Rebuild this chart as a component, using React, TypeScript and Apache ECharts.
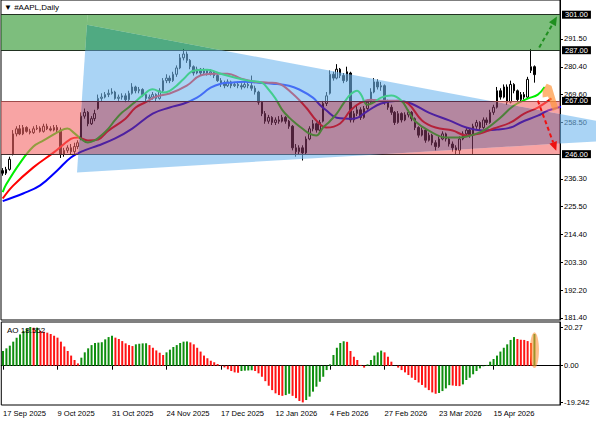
import React, { useEffect, useRef } from 'react';
import * as echarts from 'echarts';

const START_DATE = '2025-09-17';
const HOLIDAYS = ['2025-11-27', '2025-12-25', '2026-01-01', '2026-01-19', '2026-02-16', '2026-04-03'];
const BAR_COUNT = 157;
const FUTURE_SLOTS = 7;
const LABEL_EVERY = 16;
const MONTHS = ['Jan', 'Feb', 'Mar', 'Apr', 'May', 'Jun', 'Jul', 'Aug', 'Sep', 'Oct', 'Nov', 'Dec'];

const TITLE = '\u25BC #AAPL,Daily';
const AO_TITLE = 'AO 18.552';

// [open, close, low, high]
const CANDLES: number[][] = [
  [239.5,238.5,237.5,240.5],[238.5,240,237.8,241],[240,244,239.5,245],[246,254,245.5,255.5],[254,256,253,257],
  [256,254,253.5,257.5],[254,256.5,253.5,257.5],[256.5,255,254.5,257],[255,254.5,253.8,256],[254.5,256,254,257],
  [256,256.3,255.5,257.5],[256.3,255,254.5,257],[255,257,254.5,258],[257,256,255.5,258],[256,255.5,255,257],
  [255.5,256.5,255,257.5],[256.5,255.5,254.5,257.5],[255.5,246,244.5,256.5],[246,247.5,245,248.5],[247.5,248.5,246.5,249.5],
  [248.5,247,246,250],[247,249,246,250.5],[249,250.5,248,251.5],[252,261,251.5,262.5],[261,262.5,260,264],
  [262.5,258,257,263],[258,260,257.5,261],[260,262,259,263.5],[264,268,263.5,269.5],[268,268.5,267,270],
  [268.5,269.5,268,270.5],[269.5,270,268.5,271.5],[270,270.5,269.5,272],[270.5,268,267.5,271],[268,268.5,267,269.5],
  [268.5,269,267.5,270],[269,267.5,266.5,270],[267.5,270,267,271],[270,272.5,269.5,274],[272.5,271,270,273],
  [271,271.5,270,272.5],[271.5,269.5,268.5,272],[269.5,268,267,270],[268,268.5,266.5,269.5],[268.5,269.5,267.5,270.5],
  [269.5,268,267,270],[268,271,267.5,272],[271,275,270.5,276],[275,276,274,277.5],[276,275,274,277],
  [275,277.5,274.5,278.5],[277.5,280,276.5,281],[280,284,279.5,285.5],[284,285.5,283,287.5],[285.5,283,282,286.5],
  [283,280.5,279.5,283.5],[280.5,278,277,281],[278,279.5,277.5,280.5],[279.5,278,277,280],[278,279,277.5,280],
  [279,278,277,279.5],[278,278.5,277,279.5],[278.5,277,276,279],[277,275,274.5,277.5],[275,274,272.5,276],
  [274,273,272,275],[273,274.5,272.5,275.5],[274.5,273,272,275],[273,273.5,272.5,274.5],[273.5,273,272,274.5],
  [273,272.5,271.5,274],[272.5,273.5,272,274.5],[273.5,273,272,274.5],[273,272,271,277],[272,270.5,269.5,273],
  [270.5,266.5,265.5,271],[266.5,262,261,267],[262,259,258,263],[259,260.5,258,261.5],[260.5,258.5,257.5,261],
  [258.5,259.5,257.5,260.5],[259.5,259,258,261],[259,260.5,258.5,261.5],[260.5,259,258,261],[259,257,256,259.5],
  [257,248.5,247.5,257.5],[248.5,247,245,250],[247,248.5,246,249.5],[248.5,246.5,243.5,249.5],[246.5,252,246,253],
  [252,256,251.5,257],[256,258,255,259.5],[258,255.5,254.5,258.5],[255.5,258.5,255,259.5],[259,266,258.5,267],
  [266,269,265,270.5],[270,277.5,269.5,279],[277.5,276,275,278.5],[276,279.5,275.5,281.5],[279.5,277,276,280],
  [277,275,274,278],[275,278.5,274.5,280.5],[278,259.5,258.5,278.5],[259.5,262,258.5,263],[262,263.5,261,265],
  [263.5,260.5,259.5,264.5],[260.5,264,260,265],[264,266.5,263.5,267.5],[266.5,270.5,266,272],[270.5,274.5,270,276],
  [274.5,272.5,271.5,275.5],[272.5,273,271,274.5],[273,266.5,265.5,273.5],[266.5,264.5,263.5,267.5],[264.5,262.5,261.5,265.5],
  [262.5,258.5,257.5,263],[258.5,262,258,263],[262,259.5,258.5,262.5],[259.5,261.5,259,262.5],[261.5,262.5,260.5,263.5],
  [262.5,260,259,263],[260,256.5,255.5,260.5],[256.5,253.5,252.5,257],[253.5,255.5,253,256.5],[255.5,251.5,250.5,256],
  [251.5,253.5,251,254.5],[253.5,250.5,249.5,254],[250.5,249,247.5,251.5],[249,252,248.5,253],[252,254,251.5,255],
  [254,252,251,254.5],[252,250,249,252.5],[250,248.5,247,251],[248.5,247.5,246,249.5],[247.5,252,246,253],
  [252,254,251.5,255],[254,255.5,253,256.5],[255.5,253.5,252.5,256],[253.5,257,246,258],[257,258.5,256,259.5],
  [258.5,256.5,255.5,259],[256.5,259.5,256,260.5],[259.5,258.5,257.5,260.5],[258.5,262.5,258,263.5],[262.5,264.5,261.5,265.5],
  [264.5,271,264,272.5],[271,268.5,267.5,272],[268.5,272.5,268,273.5],[272.5,266.5,265.5,273.5],[266.5,273.5,266,275],
  [273.5,271,270,274],[271,267.5,266.5,271.5],[267.5,269.5,266.5,270.5],[269.5,268.5,267.5,270.5],[268.5,275.5,268,276.5],
  [279,280.5,278,287.5],[280.5,277.37,274.2,281],
];

// Alligator lines, [bar index, price] (lips / teeth / jaw, already shifted forward)
const LIPS: number[][] = [
  [0,231],[1,234],[5,242.4],[9,249],[12,251.4],[17,255.3],[19,256.1],[21,254.3],[23,252],[25,250.6],[27,251.4],[29,253.5],
  [31,256.1],[33,259.5],[35,262.4],[37,264.5],[39,266.8],[41,269.1],[44,271.6],[47,270.3],[49,271],[51,273],[53,275.5],
  [56,278.9],[60,279.3],[64,277.7],[68,276.2],[72,275],[76,274.2],[78,271.5],[80,268],[82,263.5],[84,260.5],[86,258.1],
  [88,256],[90,254.1],[92,253.4],[94,256.5],[96,259],[98,262],[100,266],[102,269.5],[104,271],[105,269.8],[107,265.5],
  [109,266.5],[111,268.3],[114,269.1],[117,267.1],[119,263],[121,259],[125,255.3],[130,252.6],[134,252.6],[139,254.1],
  [142,256.1],[146,260.4],[150,265.2],[154,267.9],[157,269.5],[159,272.5],
];
const TEETH: number[][] = [
  [0,228.5],[3,233.5],[9,240.8],[15,246.7],[20,252],[22,252.6],[25,251.4],[28,251.8],[31,255.3],[36,260],[39,264.4],
  [42,266.5],[45,268.7],[49,269.9],[54,273],[58,277],[62,277.7],[66,277.7],[70,275.8],[74,274.6],[78,274.2],[81,273.8],
  [85,269.9],[89,264.4],[92,259.3],[95,256.5],[99,258.1],[102,263.2],[105,266.3],[108,267.5],[112,267.1],[116,267.1],
  [119,265.9],[123,259.3],[127,256.5],[132,255.3],[136,253.4],[140,254.1],[144,256.1],[149,258.5],[153,262],[157,264.4],
  [161,268],
];
const JAW: number[][] = [
  [0,227.5],[6,230.5],[11,233.7],[16,239.6],[20,244.7],[24,247.5],[28,249.4],[33,252.2],[38,256.1],[44,262],[49,264.4],
  [53,265.9],[57,268.3],[61,272.2],[64,273.8],[67,274.2],[71,274.6],[75,274.2],[79,273.8],[84,273],[87,271.5],[91,268.3],
  [93,265.5],[95,263.2],[98,260.4],[103,260],[107,263],[111,266],[116,267.1],[120,265.9],[125,262.4],[131,259.3],
  [136,256.5],[141,255.3],[145,255.7],[149,256.5],[152,258.5],[157,261.2],[160,263.2],[164,264.8],
];

const AO: number[] = [
  7.7, 9.1, 10.5, 12.6, 14.7, 16.4, 18.2, 19.6, 20.27, 19.9,
  19.95, 18.2, 17.8, 17.3, 16.6, 15.7, 14.7, 12.6, 10.0, 7.7,
  5.3, 3.0, 1.2, 4.2, 7.0, 9.1, 10.8, 11.9, 12.1, 12.3,
  13.8, 15.0, 15.7, 14.7, 14.0, 12.9, 11.7, 10.8, 10.3, 11.2,
  11.5, 11.7, 11.75, 10.8, 9.4, 8.0, 6.8, 5.6, 7.0, 8.4,
  9.8, 10.8, 11.9, 12.6, 12.7, 12.2, 11.2, 9.4, 7.4, 5.3,
  3.9, 2.6, 1.8, 0.9, 0.2, -0.9, -1.9, -2.8, -3.5, -3.7,
  -2.8, -2.6, -2.5, -2.4, -2.8, -4.0, -5.8, -8.1, -10.5, -12.8,
  -14.5, -15.4, -15.8, -15.4, -14.7, -15.8, -17.0, -18.5, -19.242, -18.0,
  -16.2, -13.6, -11.0, -8.4, -5.8, -2.3, 0.7, 5.6, 9.4, 11.9,
  12.8, 12.5, 7.7, 4.7, 3.0, 0.4, -1.0, 0.7, 3.0, 5.3,
  7.0, 7.9, 7.0, 4.7, 2.1, 0.05, -1.0, -2.3, -3.5, -4.9,
  -6.3, -7.5, -8.8, -10.1, -11.5, -12.8, -14.0, -14.7, -14.3, -13.3,
  -11.9, -10.2, -10.4, -10.6, -10.7, -9.8, -7.5, -6.3, -4.5, -2.8,
  -1.4, -0.3, 0.4, 2.1, 3.5, 5.3, 7.4, 9.4, 11.2, 13.5,
  15.0, 14.0, 13.6, 13.5, 12.9, 11.9, 16.6,
];

const PRICE_TICKS = [291.5, 280.4, 269.6, 258.5, 236.3, 225.5, 214.4, 203.3, 192.2, 181.4];
const AO_TICKS = [20.27, 0, -19.242];
const AO_TICK_LABELS = ['20.27', '0.00', '-19.242'];
const LEVELS = [301, 287, 267, 246];
const LAST_PRICE = 277.37;
const GREEN_ZONE = [301, 287];
const PINK_ZONE = [267, 246];
const TRIANGLE: number[][] = [[24.7, 297.0], [21.8, 238.8], [198.5, 253.0]];
const GREEN_ARROW: number[][] = [[157.4, 288.1], [162.6, 300.3]];
const RED_ARROW: number[][] = [[157.0, 267.1], [162.4, 247.3]];
const ORANGE_MARK: number[][] = [[158.4, 271.1], [159.6, 273.8], [161.0, 273.0], [163.0, 264.0], [161.4, 263.0], [160.0, 268.7], [158.4, 268.3]];
const AO_HIGHLIGHT = { index: 156, top: 17.5, bottom: -1.2 };

type P = [number, number];
type H = [number, number, number];

function clipHalf(poly: P[], h: H): P[] {
  const out: P[] = [];
  const n = poly.length;
  for (let k = 0; k < n; k++) {
    const a = poly[k];
    const b = poly[(k + 1) % n];
    const fa = h[0] * a[0] + h[1] * a[1] - h[2];
    const fb = h[0] * b[0] + h[1] * b[1] - h[2];
    if (fa <= 0) out.push(a);
    if ((fa < 0 && fb > 0) || (fa > 0 && fb < 0)) {
      const t = fa / (fa - fb);
      out.push([a[0] + t * (b[0] - a[0]), a[1] + t * (b[1] - a[1])]);
    }
  }
  return out;
}
function intersect(poly: P[], hs: H[]): P[] {
  let p = poly;
  for (const h of hs) {
    if (p.length < 3) return [];
    p = clipHalf(p, h);
  }
  return p.length >= 3 ? p : [];
}
function subtract(poly: P[], hs: H[]): P[][] {
  const pieces: P[][] = [];
  for (let k = 0; k < hs.length; k++) {
    const hk = hs[k];
    const comp: H = [-hk[0], -hk[1], -hk[2]];
    const piece = intersect(poly, [...hs.slice(0, k), comp]);
    if (piece.length >= 3) pieces.push(piece);
  }
  return pieces;
}
function halfPlanes(poly: P[]): H[] {
  let cx = 0, cy = 0;
  poly.forEach((p) => { cx += p[0]; cy += p[1]; });
  cx /= poly.length; cy /= poly.length;
  const hs: H[] = [];
  for (let k = 0; k < poly.length; k++) {
    const a = poly[k];
    const b = poly[(k + 1) % poly.length];
    let nx = -(b[1] - a[1]);
    let ny = b[0] - a[0];
    let c = nx * a[0] + ny * a[1];
    if (nx * cx + ny * cy > c) { nx = -nx; ny = -ny; c = -c; }
    hs.push([nx, ny, c]);
  }
  return hs;
}

function buildDates(): string[] {
  const out: string[] = [];
  const d = new Date(START_DATE + 'T00:00:00Z');
  while (out.length < BAR_COUNT) {
    const wd = d.getUTCDay();
    const iso = d.toISOString().slice(0, 10);
    if (wd !== 0 && wd !== 6 && HOLIDAYS.indexOf(iso) < 0) {
      out.push(`${d.getUTCDate()} ${MONTHS[d.getUTCMonth()]} ${d.getUTCFullYear()}`);
    }
    d.setUTCDate(d.getUTCDate() + 1);
  }
  for (let k = 0; k < FUTURE_SLOTS; k++) out.push(`future-${k}`);
  return out;
}

const FONT = 'Liberation Sans, Arial, sans-serif';

export default function App() {
  const ref = useRef<HTMLDivElement>(null);
  useEffect(() => {
    if (!ref.current) return;
    const chart = echarts.init(ref.current, undefined, { renderer: 'svg' });
    const dates = buildDates();

    const overlayItem = (params: any, api: any) => {
      const cs = params.coordSys;
      const a0 = api.coord([0, PINK_ZONE[0]]);
      const a1 = api.coord([1, PINK_ZONE[0]]);
      const step = a1[0] - a0[0];
      const toPx = (pt: number[]): P => [a0[0] + pt[0] * step, api.coord([0, pt[1]])[1]];
      const x0 = cs.x, x1 = cs.x + cs.width;
      const yP1 = api.coord([0, PINK_ZONE[0]])[1], yP2 = api.coord([0, PINK_ZONE[1]])[1];
      const yG1 = api.coord([0, GREEN_ZONE[0]])[1], yG2 = api.coord([0, GREEN_ZONE[1]])[1];
      const rectP: P[] = [[x0, yP1], [x1, yP1], [x1, yP2], [x0, yP2]];
      const rectG: P[] = [[x0, yG1], [x1, yG1], [x1, yG2], [x0, yG2]];
      const tri: P[] = TRIANGLE.map(toPx);
      const hT = halfPlanes(tri), hP = halfPlanes(rectP), hG = halfPlanes(rectG);
      const children: any[] = [];
      const add = (polys: P[][], fill: string) => {
        polys.forEach((pts) => children.push({ type: 'polygon', shape: { points: pts }, style: { fill, stroke: null } }));
      };
      add(subtract(rectP, hT), 'rgba(243,103,103,0.6)');
      add(subtract(rectG, hT), 'rgba(38,147,38,0.6)');
      add([intersect(tri, hP)].filter((p) => p.length), 'rgba(130,55,97,0.6)');
      add([intersect(tri, hG)].filter((p) => p.length), 'rgba(22,142,88,0.75)');
      const blue: P[][] = [];
      subtract(tri, hP).forEach((piece) => subtract(piece, hG).forEach((pp) => blue.push(pp)));
      add(blue, 'rgba(113,183,238,0.6)');
      return { type: 'group', children };
    };

    const arrow = (pts: number[][], color: string, toPx: (p: number[]) => P) => {
      const s = toPx(pts[0]);
      const e = toPx(pts[1]);
      const dx = e[0] - s[0], dy = e[1] - s[1];
      const len = Math.sqrt(dx * dx + dy * dy);
      const ux = dx / len, uy = dy / len;
      const hl = 9, hw = 4;
      const bx = e[0] - ux * hl, by = e[1] - uy * hl;
      return [
        { type: 'line', shape: { x1: s[0], y1: s[1], x2: bx, y2: by }, style: { stroke: color, lineWidth: 2, lineDash: [4, 3] } },
        { type: 'polygon', shape: { points: [[e[0], e[1]], [bx - uy * hw, by + ux * hw], [bx + uy * hw, by - ux * hw]] }, style: { fill: color } },
      ];
    };

    const annotationItem = (params: any, api: any) => {
      const a0 = api.coord([0, 270]);
      const a1 = api.coord([1, 270]);
      const step = a1[0] - a0[0];
      const toPx = (pt: number[]): P => [a0[0] + pt[0] * step, api.coord([0, pt[1]])[1]];
      return {
        type: 'group',
        children: [
          { type: 'polygon', shape: { points: ORANGE_MARK.map(toPx) }, style: { fill: 'rgba(255,150,60,0.7)' } },
          ...arrow(GREEN_ARROW, '#1f8f1f', toPx),
          ...arrow(RED_ARROW, '#ee1111', toPx),
        ],
      };
    };

    const aoHighlightItem = (params: any, api: any) => {
      const top = api.coord([AO_HIGHLIGHT.index, AO_HIGHLIGHT.top]);
      const bot = api.coord([AO_HIGHLIGHT.index, AO_HIGHLIGHT.bottom]);
      const cx = top[0], cy = (top[1] + bot[1]) / 2, ry = (bot[1] - top[1]) / 2, rx = 4.5;
      const pts: P[] = [];
      for (let k = 0; k < 32; k++) {
        const t = (k / 32) * Math.PI * 2;
        pts.push([cx + rx * Math.cos(t), cy + ry * Math.sin(t)]);
      }
      return { type: 'polygon', shape: { points: pts }, style: { fill: 'rgba(255,150,60,0.6)' } };
    };

    const labelInterval = (idx: number) => idx % LABEL_EVERY === 0 && idx < BAR_COUNT;

    const levelLabel = (v: number) => ({
      show: true,
      position: 'end',
      formatter: v.toFixed(2),
      color: '#fff',
      backgroundColor: '#000',
      padding: [0, 3, 0, 3],
      lineHeight: 8,
      fontSize: 7.5,
      fontFamily: FONT,
      distance: 2,
    });

    const option: any = {
      animation: false,
      textStyle: { fontFamily: FONT },
      grid: [
        { left: 1, right: 36, top: -1, height: 321, show: true, borderColor: '#000', borderWidth: 1, backgroundColor: 'transparent' },
        { left: 1, right: 36, top: 322, height: 83, show: true, borderColor: '#000', borderWidth: 1, backgroundColor: 'transparent' },
      ],
      xAxis: [
        { type: 'category', data: dates, gridIndex: 0, boundaryGap: true, axisLine: { show: false }, axisTick: { show: false }, axisLabel: { show: false }, splitLine: { show: false } },
        {
          type: 'category', data: dates, gridIndex: 1, boundaryGap: true,
          axisLine: { show: true, lineStyle: { color: '#000' } },
          axisTick: { show: true, interval: labelInterval, alignWithLabel: true, length: 4, lineStyle: { color: '#000' } },
          axisLabel: { show: true, interval: labelInterval, align: 'left', margin: 4, fontSize: 7.6, color: '#000', fontFamily: FONT, hideOverlap: false },
          splitLine: { show: false },
        },
      ],
      yAxis: [
        {
          type: 'value', gridIndex: 0, position: 'right', min: 180.6, max: 306.8, scale: true,
          axisLine: { show: true, lineStyle: { color: '#000' } },
          axisTick: { show: true, customValues: PRICE_TICKS, length: 3, lineStyle: { color: '#000' } },
          axisLabel: { show: true, customValues: PRICE_TICKS, formatter: (v: number) => v.toFixed(2), margin: 4, fontSize: 7.5, color: '#000', fontFamily: FONT },
          splitLine: { show: false },
        },
        {
          type: 'value', gridIndex: 1, position: 'right', min: -20.6, max: 22.9,
          axisLine: { show: true, lineStyle: { color: '#000' } },
          axisTick: { show: true, customValues: AO_TICKS, length: 3, lineStyle: { color: '#000' } },
          axisLabel: {
            show: true, customValues: AO_TICKS, margin: 4, fontSize: 7.5, color: '#000', fontFamily: FONT,
            formatter: (v: number) => { const k = AO_TICKS.findIndex((t) => Math.abs(t - v) < 1e-6); return k >= 0 ? AO_TICK_LABELS[k] : ''; },
          },
          splitLine: { show: false },
        },
      ],
      graphic: [
        { type: 'text', left: 4, top: 3, z: 20, style: { text: TITLE, font: `8px ${FONT}`, fill: '#000' } },
        { type: 'text', left: 7, top: 326, z: 20, style: { text: AO_TITLE, font: `8px ${FONT}`, fill: '#000' } },
      ],
      series: [
        {
          type: 'candlestick', xAxisIndex: 0, yAxisIndex: 0, data: CANDLES, barWidth: 2, z: 2,
          itemStyle: { color: '#ffffff', color0: '#000000', borderColor: '#000000', borderColor0: '#000000', borderWidth: 1 },
        },
        { type: 'line', xAxisIndex: 0, yAxisIndex: 0, data: JAW, smooth: 0.4, showSymbol: false, z: 3, lineStyle: { color: '#0000ff', width: 2 } },
        { type: 'line', xAxisIndex: 0, yAxisIndex: 0, data: TEETH, smooth: 0.4, showSymbol: false, z: 3, lineStyle: { color: '#ff0000', width: 2 } },
        { type: 'line', xAxisIndex: 0, yAxisIndex: 0, data: LIPS, smooth: 0.4, showSymbol: false, z: 3, lineStyle: { color: '#00ee00', width: 2 } },
        { type: 'custom', xAxisIndex: 0, yAxisIndex: 0, data: [[0, 0]], renderItem: overlayItem, z: 5, silent: true, clip: false },
        {
          type: 'line', xAxisIndex: 0, yAxisIndex: 0, data: [], z: 6,
          markLine: {
            silent: true, symbol: ['none', 'none'], animation: false,
            data: [
              ...LEVELS.map((v) => ({ yAxis: v, lineStyle: { color: '#222', width: 1, type: 'solid' }, label: levelLabel(v) })),
              { yAxis: LAST_PRICE, lineStyle: { color: '#000', width: 1, type: 'solid', opacity: 0 }, label: levelLabel(LAST_PRICE) },
            ],
          },
        },
        { type: 'custom', xAxisIndex: 0, yAxisIndex: 0, data: [[0, 0]], renderItem: annotationItem, z: 8, silent: true, clip: false },
        {
          type: 'bar', xAxisIndex: 1, yAxisIndex: 1, barWidth: 2, z: 2,
          data: AO.map((v, i) => ({ value: v, itemStyle: { color: i === 0 || v > AO[i - 1] ? '#0f8f0f' : '#ff1414' } })),
        },
        { type: 'custom', xAxisIndex: 1, yAxisIndex: 1, data: [[0, 0]], renderItem: aoHighlightItem, z: 5, silent: true, clip: false },
      ],
    };
    chart.setOption(option);
    return () => chart.dispose();
  }, []);
  return <div ref={ref} style={{ position: 'fixed', left: 0, top: 0, width: 596, height: 425, background: '#fff' }} />;
}
